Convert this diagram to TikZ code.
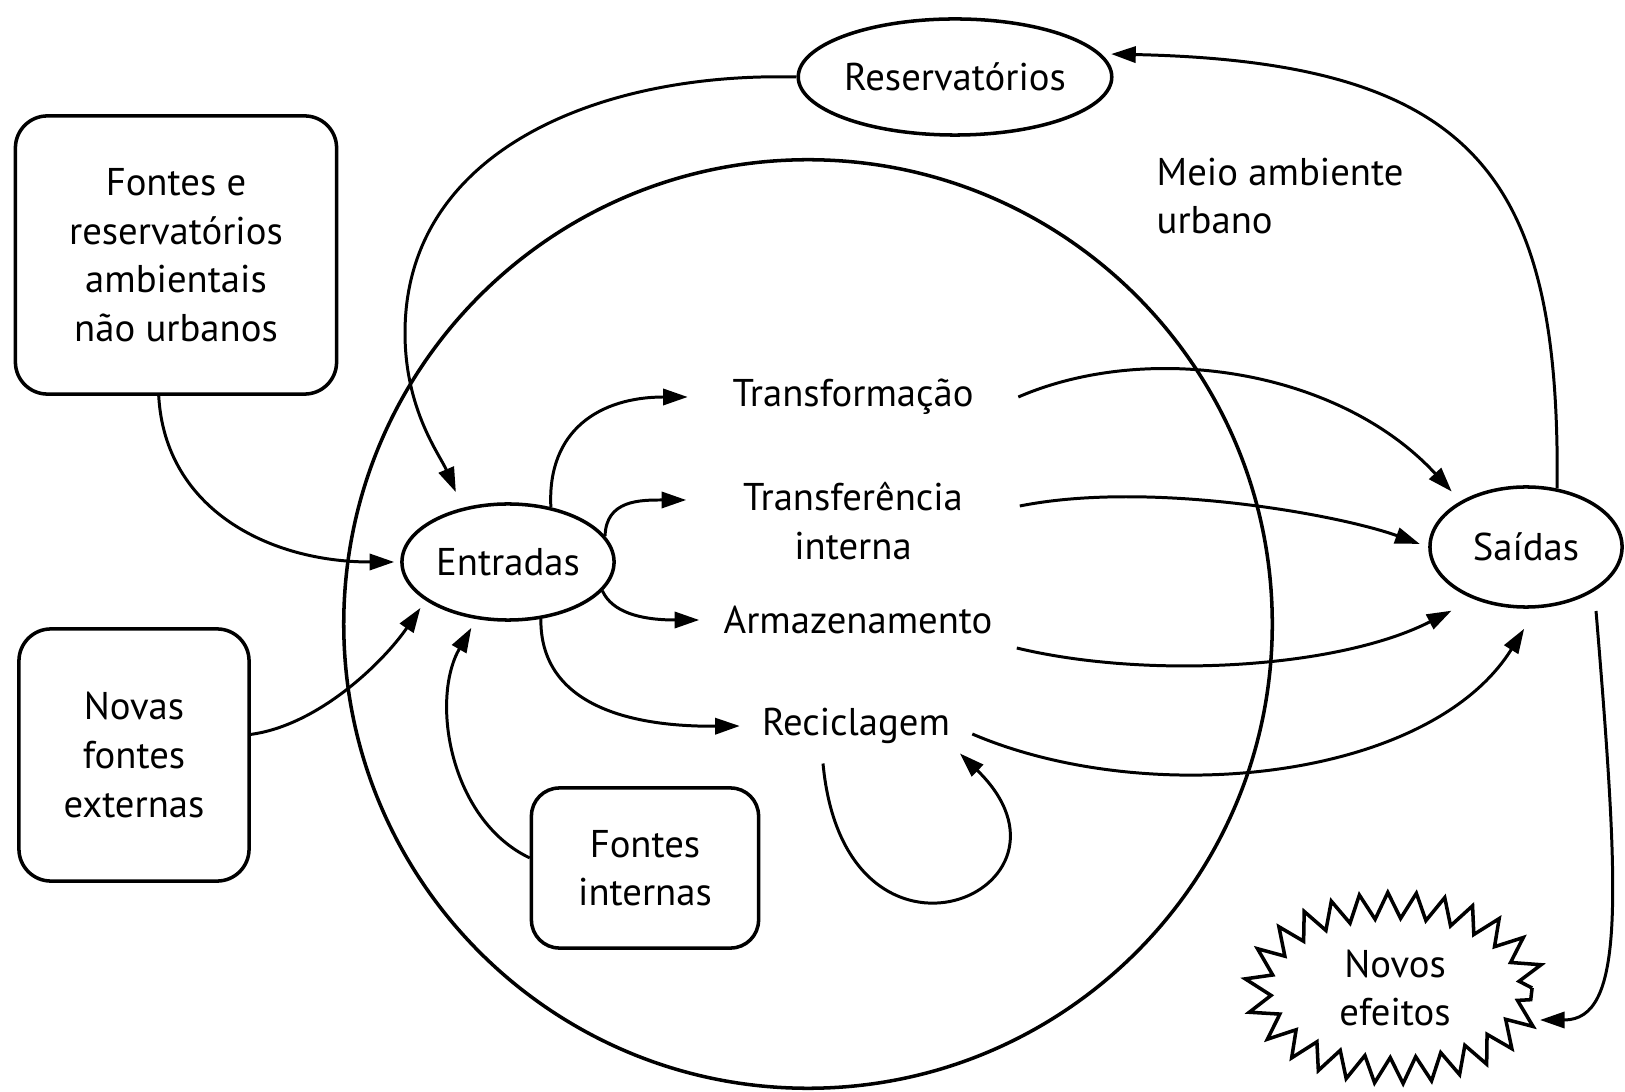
\documentclass[tikz,border=0pt]{standalone}
\usepackage{fontspec}
\setmainfont{PT Sans}
\usetikzlibrary{arrows.meta,shapes.geometric,decorations.pathmorphing}

\begin{document}
\begin{tikzpicture}
[x=0.01cm,y=-0.01cm,>={Triangle[length=7pt,width=4.6pt]},
 every node/.style={font=\fontsize{11}{13.8}\selectfont},
 caixa/.style={draw,line width=1pt,rounded corners=0.32cm,align=center,inner sep=0},
 elipse/.style={draw,ellipse,line width=1pt,inner sep=0},
 etapa/.style={inner sep=0,align=center},
 fluxo/.style={->,line width=0.85pt}]

	\useasboundingbox (0,0) rectangle (1625,1092);
	%\draw[gray,step=100] (0,0) grid (1625,1092);

	% meio ambiente urbano
	\draw[line width=1pt] (808,624) circle [radius=4.64cm];
	\node[etapa,align=left,anchor=west] (mau) at (1156,196) {Meio ambiente\\urbano};

	\node[caixa,minimum width=3.21cm,minimum height=2.78cm] (fer) at (176,255)
	{Fontes e\\reservatórios\\ambientais\\não urbanos};
	\node[caixa,minimum width=2.30cm,minimum height=2.52cm] (nfe) at (134,755)
	{Novas\\fontes\\externas};
	\node[caixa,minimum width=2.27cm,minimum height=1.60cm,rounded corners=0.28cm] (fin) at (645,868)
	{Fontes\\internas};

	\node[elipse,minimum width=2.46cm,minimum height=1.16cm] (res) at (955,77) {Reservatórios};
	\node[elipse,minimum width=2.12cm,minimum height=1.16cm] (ent) at (508,562) {Entradas};
	\node[elipse,minimum width=1.92cm,minimum height=1.20cm] (sai) at (1526,547) {Saídas};

	\node[etapa,minimum width=3.29cm] (trf) at (853,397) {Transformação};
	\node[etapa,minimum width=3.32cm] (tri) at (853,521) {Transferência\\interna};
	\node[etapa,minimum width=3.16cm] (arm) at (858,620) {Armazenamento};
	\node[etapa,minimum width=2.31cm] (rec) at (856,726) {Reciclagem};

	% novos efeitos
	\node[etapa] (nef) at (1395,988) {Novos\\efeitos};
	\draw[line width=1pt,decorate,decoration={zigzag,segment length=0.27cm,amplitude=0.13cm}]
	(nef.center) ellipse [x radius=1.37cm,y radius=0.825cm];

	% entradas
	\draw[fluxo,shorten >=0.17cm] (res.west) .. controls (600,72) and (405,150) .. (405,333)
	.. controls (405,410) and (440,455) .. (ent.130);
	\draw[fluxo,shorten >=0.06cm] (fer.263) .. controls (165,510) and (270,562) .. (ent.west);
	\draw[fluxo,shorten >=0.09cm] (nfe.10) .. controls (320,725) and (385,660) .. (ent.205);
	\draw[fluxo,shorten >=0.1cm] (fin.175) .. controls (450,820) and (430,700) .. (ent.241);

	\draw[fluxo] (ent.52) .. controls (547,430) and (600,397) .. (trf.west);
	\draw[fluxo] (ent.15) .. controls (606,500) and (640,500) .. ([yshift=0.21cm]tri.west);
	\draw[fluxo] (ent.-17) .. controls (612,612) and (640,620) .. (arm.west);
	\draw[fluxo] (ent.-60) .. controls (540,700) and (620,727) .. (rec.west);

	% saidas
	\draw[fluxo,shorten >=0.13cm] (trf.east) .. controls (1150,340) and (1340,370) .. (sai.145);
	\draw[fluxo,shorten >=0.09cm] ([yshift=0.15cm]tri.east) .. controls (1150,480) and (1340,515) .. (sai.west);
	\draw[fluxo,shorten >=0.25cm] ([yshift=-0.28cm]arm.east) .. controls (1150,680) and (1340,668) .. (sai.225);
	\draw[fluxo,shorten >=0.24cm] ([yshift=-0.08cm]rec.east) .. controls (1150,810) and (1430,780) .. (sai.280);

	\draw[fluxo] ([shift={(-33,19)}]rec.south) .. controls (845,1000) and (1100,890) .. ([shift={(104,9)}]rec.south);

	\draw[fluxo,shorten >=0.1cm] (sai.62) .. controls (1560,180) and (1480,62) .. (res.9);
	\draw[fluxo] ([shift={(70,64)}]sai.center) .. controls (1620,900) and (1625,1020) .. ([shift={(145,32)}]nef.center);
\end{tikzpicture}
\end{document}
